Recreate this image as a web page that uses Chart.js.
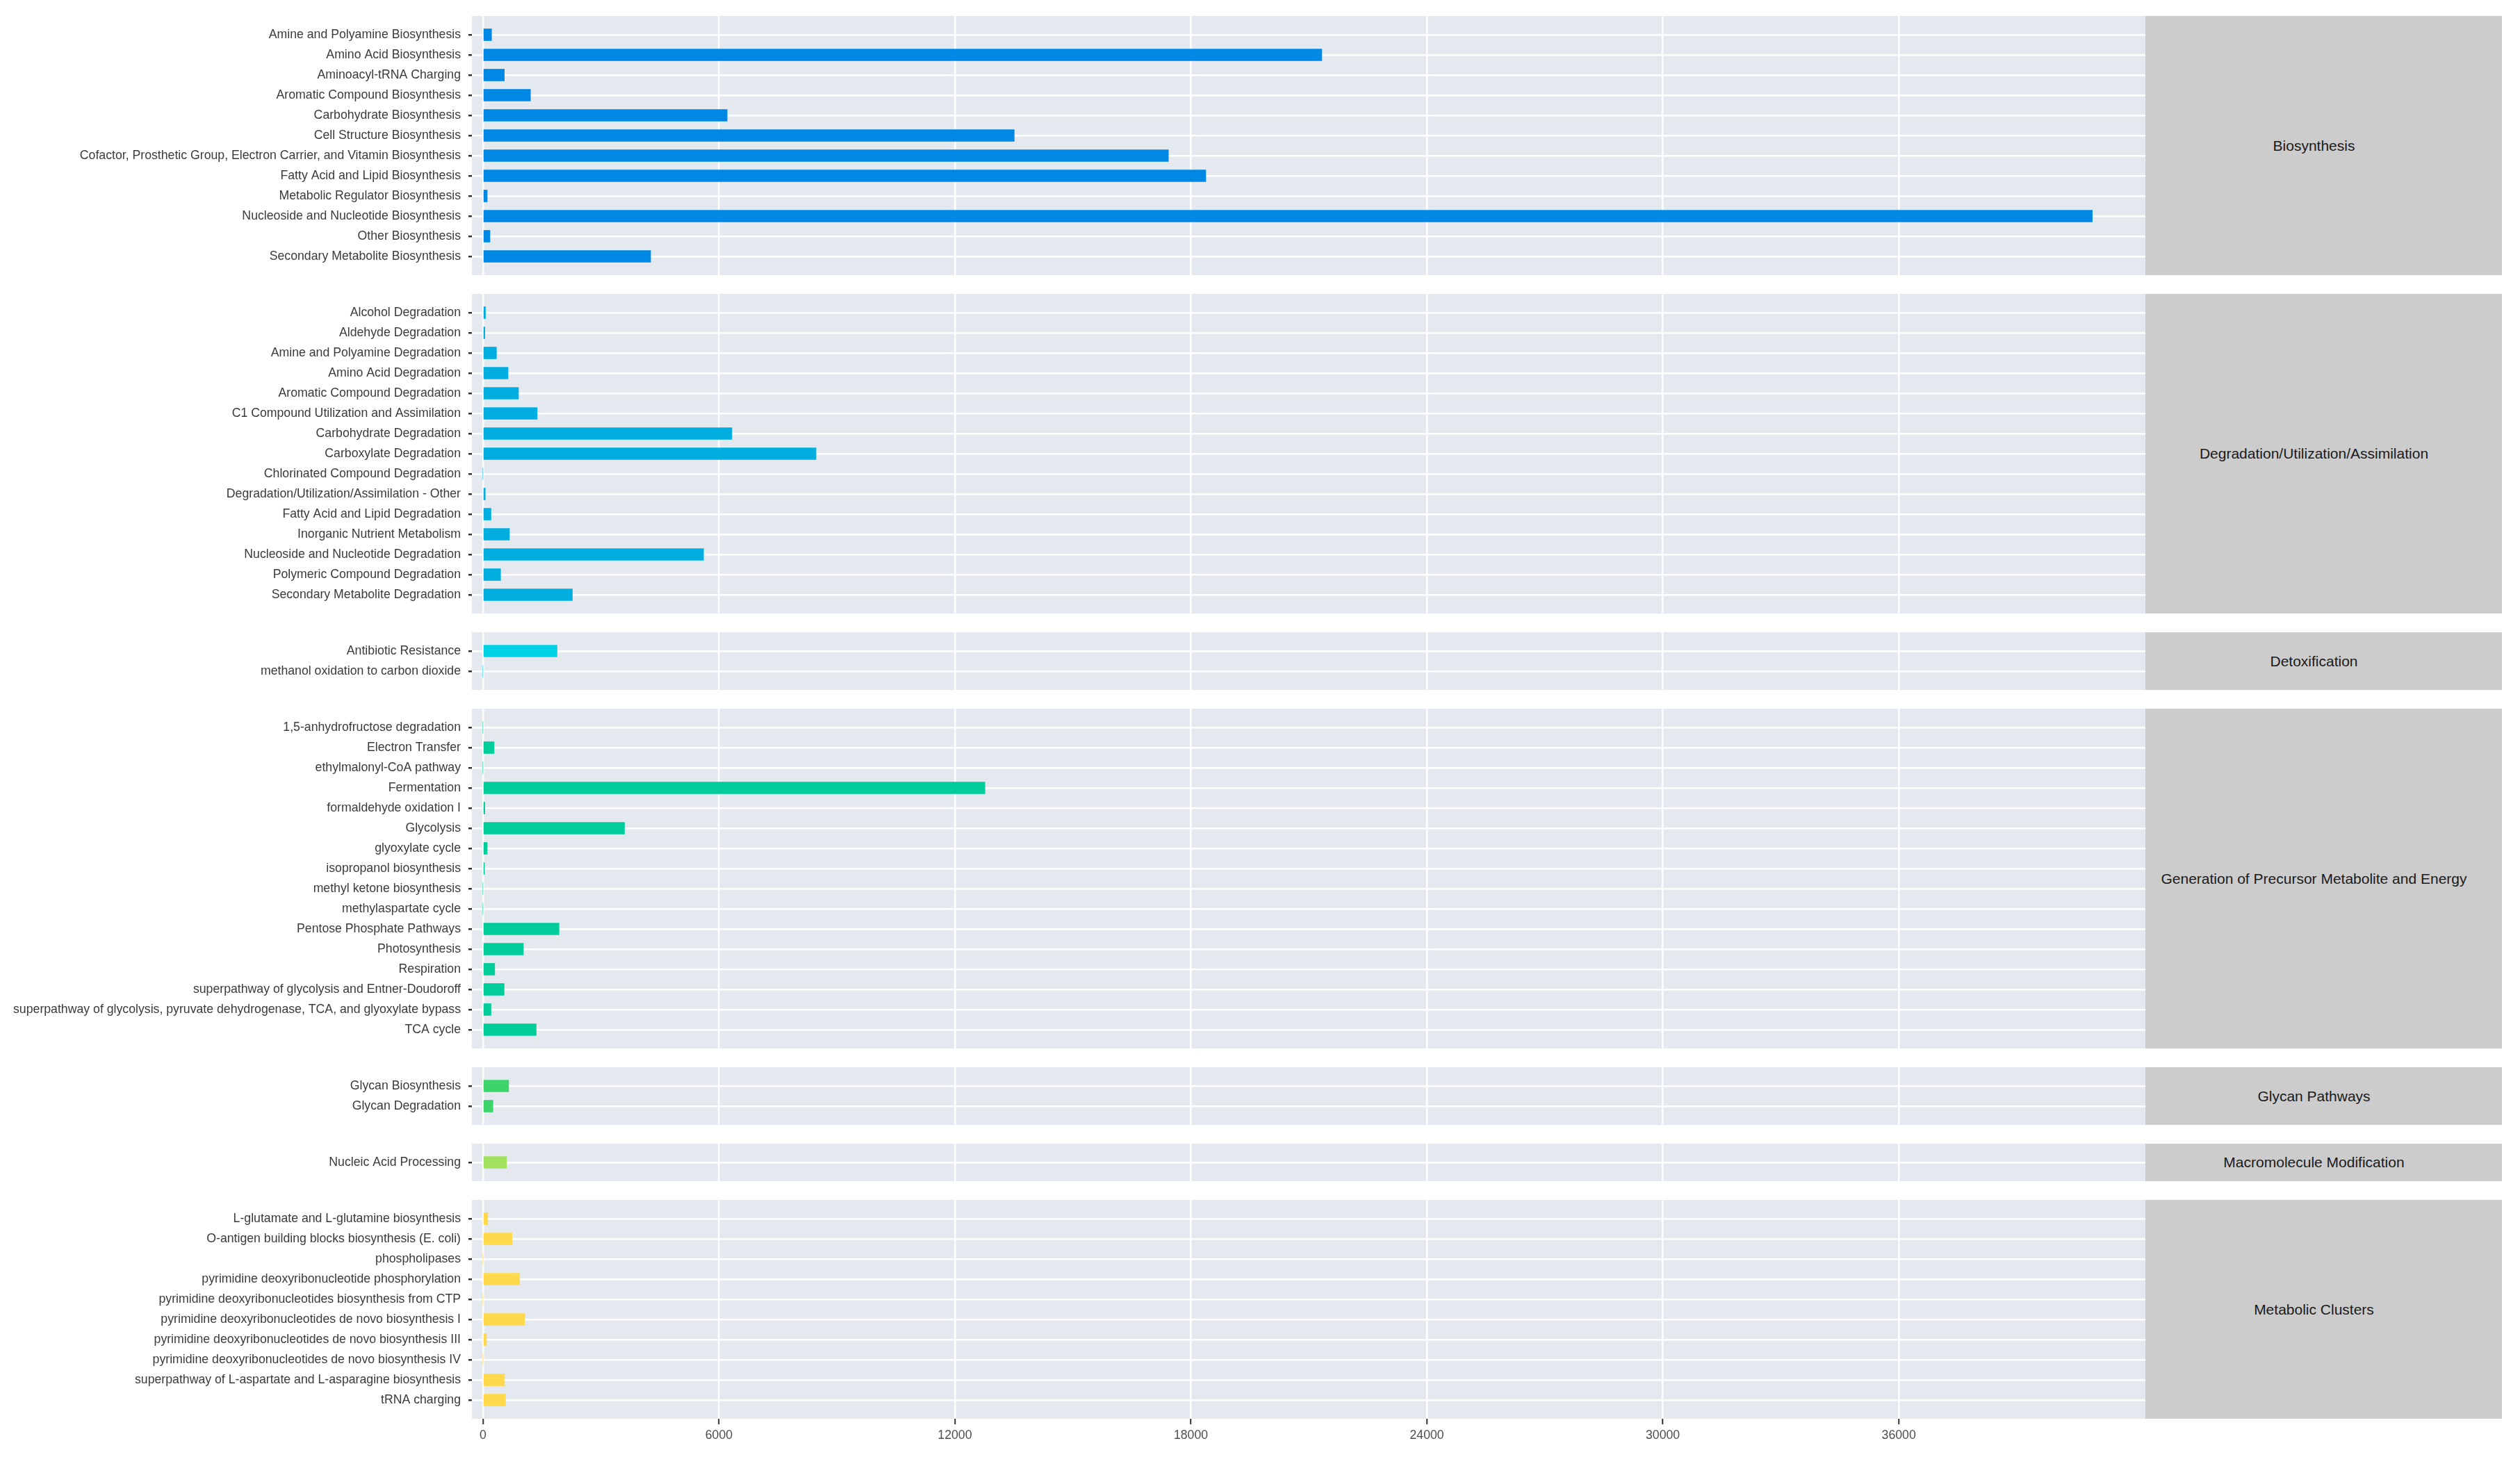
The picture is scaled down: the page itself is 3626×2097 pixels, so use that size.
<!DOCTYPE html>
<html>
<head>
<meta charset="utf-8">
<script src="https://cdn.jsdelivr.net/npm/chart.js@4.4.0/dist/chart.umd.min.js"></script>
<style>
  body { margin: 0; background: #fff; }
  #wrap { position: relative; width: 3626px; height: 2097px; font-family: "Liberation Sans", Arial, sans-serif; }
  .panel { position: absolute; left: 0; }
  .strip { position: absolute; box-sizing: border-box; padding-right: 28px; background: #cccccc; color: #1a1a1a;
           font-size: 21px; display: flex; align-items: center; justify-content: center; text-align: center; }
</style>
</head>
<body>
<div id="wrap"></div>
<script>
// facet names (strip text on the right)
const groups = [
  'Biosynthesis',
  'Degradation/Utilization/Assimilation',
  'Detoxification',
  'Generation of Precursor Metabolite and Energy',
  'Glycan Pathways',
  'Macromolecule Modification',
  'Metabolic Clusters'
];

const biosynthesisLabels = [
  'Amine and Polyamine Biosynthesis', 'Amino Acid Biosynthesis', 'Aminoacyl-tRNA Charging',
  'Aromatic Compound Biosynthesis', 'Carbohydrate Biosynthesis', 'Cell Structure Biosynthesis',
  'Cofactor, Prosthetic Group, Electron Carrier, and Vitamin Biosynthesis', 'Fatty Acid and Lipid Biosynthesis',
  'Metabolic Regulator Biosynthesis', 'Nucleoside and Nucleotide Biosynthesis', 'Other Biosynthesis',
  'Secondary Metabolite Biosynthesis'
];
const biosynthesisValues = [220, 21330, 545, 1210, 6210, 13510, 17430, 18380, 110, 40920, 180, 4265];

const degradationLabels = [
  'Alcohol Degradation', 'Aldehyde Degradation', 'Amine and Polyamine Degradation', 'Amino Acid Degradation',
  'Aromatic Compound Degradation', 'C1 Compound Utilization and Assimilation', 'Carbohydrate Degradation',
  'Carboxylate Degradation', 'Chlorinated Compound Degradation', 'Degradation/Utilization/Assimilation - Other',
  'Fatty Acid and Lipid Degradation', 'Inorganic Nutrient Metabolism', 'Nucleoside and Nucleotide Degradation',
  'Polymeric Compound Degradation', 'Secondary Metabolite Degradation'
];
const degradationValues = [65, 50, 345, 640, 905, 1380, 6330, 8470, 0, 60, 205, 675, 5610, 450, 2275];

const detoxLabels = ['Antibiotic Resistance', 'methanol oxidation to carbon dioxide'];
const detoxValues = [1885, 0];

const energyLabels = [
  '1,5-anhydrofructose degradation', 'Electron Transfer', 'ethylmalonyl-CoA pathway', 'Fermentation',
  'formaldehyde oxidation I', 'Glycolysis', 'glyoxylate cycle', 'isopropanol biosynthesis',
  'methyl ketone biosynthesis', 'methylaspartate cycle', 'Pentose Phosphate Pathways', 'Photosynthesis',
  'Respiration', 'superpathway of glycolysis and Entner-Doudoroff',
  'superpathway of glycolysis, pyruvate dehydrogenase, TCA, and glyoxylate bypass', 'TCA cycle'
];
const energyValues = [0, 285, 0, 12765, 50, 3600, 110, 40, 0, 0, 1935, 1030, 300, 540, 205, 1355];

const glycanLabels = ['Glycan Biosynthesis', 'Glycan Degradation'];
const glycanValues = [655, 255];

const macroLabels = ['Nucleic Acid Processing'];
const macroValues = [600];

const clusterLabels = [
  'L-glutamate and L-glutamine biosynthesis', 'O-antigen building blocks biosynthesis (E. coli)', 'phospholipases',
  'pyrimidine deoxyribonucleotide phosphorylation', 'pyrimidine deoxyribonucleotides biosynthesis from CTP',
  'pyrimidine deoxyribonucleotides de novo biosynthesis I', 'pyrimidine deoxyribonucleotides de novo biosynthesis III',
  'pyrimidine deoxyribonucleotides de novo biosynthesis IV', 'superpathway of L-aspartate and L-asparagine biosynthesis',
  'tRNA charging'
];
const clusterValues = [125, 740, 0, 935, 0, 1060, 90, 0, 550, 575];

const xTicks = [0, 6000, 12000, 18000, 24000, 30000, 36000];

const panels = [
  { labels: biosynthesisLabels, values: biosynthesisValues, color: '#0089E4' },
  { labels: degradationLabels, values: degradationValues, color: '#00AEE0' },
  { labels: detoxLabels, values: detoxValues, color: '#00D3E6' },
  { labels: energyLabels, values: energyValues, color: '#00CD9A' },
  { labels: glycanLabels, values: glycanValues, color: '#3DD46C' },
  { labels: macroLabels, values: macroValues, color: '#A2E15E' },
  { labels: clusterLabels, values: clusterValues, color: '#FFD84C' }
];

// layout in page pixels
const UNIT = 29, PAD = 27, GAP = 27, TOP = 23;
const AXIS_W = 679, PLOT_R = 3087, STRIP_W = 513, X_AXIS_H = 50;
const X_MIN = -280, X_MAX = 42270;
const FONT = { family: '"Liberation Sans", Arial, sans-serif', size: 17.7 };

const panelBg = {
  id: 'panelBg',
  beforeDraw(chart) {
    const a = chart.chartArea, ctx = chart.ctx;
    ctx.save();
    ctx.fillStyle = '#E4E9F0';
    ctx.fillRect(a.left, a.top, a.right - a.left, a.bottom - a.top);
    ctx.restore();
  }
};

const wrap = document.getElementById('wrap');
let panelTop = TOP;

panels.forEach((p, i) => {
  const n = p.labels.length;
  const h = (n - 1) * UNIT + 2 * PAD;
  const last = i === panels.length - 1;

  const box = document.createElement('div');
  box.className = 'panel';
  box.style.top = panelTop + 'px';
  box.style.width = PLOT_R + 'px';
  box.style.height = (last ? h + X_AXIS_H : h) + 'px';
  const cv = document.createElement('canvas');
  box.appendChild(cv);
  wrap.appendChild(box);

  const strip = document.createElement('div');
  strip.className = 'strip';
  strip.style.left = PLOT_R + 'px';
  strip.style.top = panelTop + 'px';
  strip.style.width = STRIP_W + 'px';
  strip.style.height = h + 'px';
  strip.textContent = groups[i];
  wrap.appendChild(strip);

  new Chart(cv, {
    type: 'bar',
    data: {
      datasets: [{
        data: p.values.map((v, k) => ({ x: v, y: k + 1 })),
        backgroundColor: p.color,
        borderWidth: 0,
        barThickness: 17
      }]
    },
    options: {
      indexAxis: 'y',
      responsive: true,
      maintainAspectRatio: false,
      animation: false,
      layout: { padding: 0 },
      plugins: { legend: { display: false }, tooltip: { enabled: false } },
      scales: {
        x: {
          type: 'linear',
          min: X_MIN,
          max: X_MAX,
          bounds: 'data',
          afterBuildTicks: s => { s.ticks = xTicks.map(v => ({ value: v })); },
          afterFit: s => {
            s.height = last ? X_AXIS_H : 0;
            s.paddingLeft = 0; s.paddingRight = 0;
          },
          grid: { color: '#ffffff', lineWidth: 2.5, drawTicks: last, tickColor: '#333333', tickLength: 8, tickWidth: 2 },
          border: { display: false },
          ticks: { display: last, callback: v => String(v), color: '#4d4d4d', font: FONT, padding: 5, maxRotation: 0, autoSkip: false }
        },
        y: {
          type: 'linear',
          reverse: true,
          offset: false,
          bounds: 'data',
          min: 1 - PAD / UNIT,
          max: n + PAD / UNIT,
          afterBuildTicks: s => { s.ticks = p.labels.map((_, k) => ({ value: k + 1 })); },
          afterFit: s => { s.width = AXIS_W; s.paddingTop = 0; s.paddingBottom = 0; },
          grid: { offset: false, color: '#ffffff', lineWidth: 2.5, tickColor: '#333333', tickLength: 5, tickWidth: 2.5 },
          border: { display: false },
          ticks: { callback: v => p.labels[v - 1], color: '#3a3a3a', font: FONT, padding: 11, autoSkip: false }
        }
      }
    },
    plugins: [panelBg]
  });

  panelTop += h + GAP;
});
</script>
</body>
</html>
